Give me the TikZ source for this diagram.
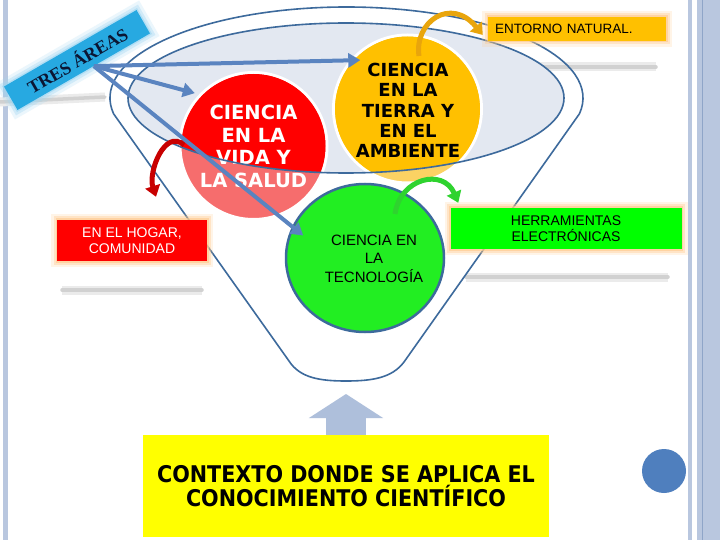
\documentclass[tikz,border=0pt]{standalone}
\usepackage{fontspec}
\setmainfont{Liberation Sans}
\newfontfamily\dvbold{DejaVu Sans}
\newfontfamily\dvcondb{DejaVu Sans Condensed Bold}
\newfontfamily\libserif{Liberation Serif}
\usetikzlibrary{arrows.meta,shapes.geometric,calc}
\definecolor{redc}{HTML}{FF0000}
\definecolor{pinkc}{HTML}{F66D6D}
\definecolor{yelc}{HTML}{FFC000}
\definecolor{lyelc}{HTML}{FBD263}
\definecolor{grnc}{HTML}{00FF00}
\definecolor{tecc}{HTML}{22EE22}
\definecolor{funl}{HTML}{3D6A9C}
\definecolor{ellf}{HTML}{E3E8F1}
\definecolor{arrb}{HTML}{5A84C0}
\definecolor{tresb}{HTML}{27A9E1}
\definecolor{tresglow}{HTML}{9ED6F2}
\definecolor{stripe}{HTML}{B9C7DF}
\definecolor{stripd}{HTML}{8FA5C8}
\definecolor{uparr}{HTML}{AEBFDB}
\definecolor{dotb}{HTML}{4F7FBE}
\definecolor{glowc}{HTML}{FFC98A}
\definecolor{ybox}{HTML}{FFFF00}
\definecolor{navy}{HTML}{0B1633}
\definecolor{orarr}{HTML}{E9A50C}
\definecolor{grarr}{HTML}{2FD32F}
\definecolor{rdarr}{HTML}{C80000}
\tikzset{
  glow/.style={preaction={draw=glowc, line width=12pt, draw opacity=0.2},
               preaction={draw=glowc, line width=7pt, draw opacity=0.35},
               preaction={draw=glowc, line width=3pt, draw opacity=0.6}},
  glowblue/.style={preaction={draw=tresglow, line width=14pt, draw opacity=0.2},
               preaction={draw=tresglow, line width=8pt, draw opacity=0.35},
               preaction={draw=tresglow, line width=3pt, draw opacity=0.6}},
  tagbox/.style={rectangle, inner sep=0pt, glow, font=\fontsize{14}{16.5}\selectfont, align=center},
  bluearrow/.style={draw=arrb, line width=4pt, -{Triangle[width=14pt,length=12pt]}},
  curvearrow/.style={line width=5pt, -{Triangle[width=15pt,length=11pt]}},
  softshadow/.style={line cap=round, preaction={draw=black!8, line width=9pt}, draw=black!18, line width=3.5pt},
  funnel/.style={draw=funl, line width=1.6pt},
}
\begin{document}
\begin{tikzpicture}[x=1pt,y=-1pt]
\useasboundingbox (0,0) rectangle (720,540);
\fill[white] (0,0) rectangle (720,540);
% page stripes
\fill[stripe] (3,0) rectangle (8,540);
\fill[stripe] (688,0) rectangle (692,540);
\fill[stripe] (697,0) rectangle (720,540);
\draw[stripd, line width=1pt] (702.5,0) -- (702.5,540);
% soft shadows
\draw[softshadow] (62,290) -- (202,290);
\draw[softshadow] (466,277) -- (668,277);
\draw[softshadow] (498,67) -- (656,67);
\draw[softshadow] (0,102) -- (105,97);
% funnel opening
\fill[ellf] (346,98) ellipse[x radius=218, y radius=75];
% circles
\node[circle, minimum size=147pt, inner sep=0pt, fill=pinkc, draw=white, line width=3pt] (vida) at (253.5,146) {};
\node[circle, minimum size=148pt, inner sep=0pt, fill=lyelc, draw=white, line width=3pt] (tierra) at (407.5,109) {};
\begin{scope}
  \clip (346,98) ellipse[x radius=218, y radius=75];
  \fill[redc] (vida.center) circle[radius=72];
  \fill[yelc] (tierra.center) circle[radius=72.5];
\end{scope}
\node[ellipse, minimum width=158pt, minimum height=148pt, inner sep=0pt, fill=tecc, draw=funl, line width=2.5pt] (tecno) at (365,258) {};
% circle texts
\node[font=\dvbold\bfseries\fontsize{19.5}{22.7}\selectfont, text=white, align=center] (vidaT) at (253.5,146.5) {CIENCIA\\EN LA\\VIDA Y\\LA SALUD};
\node[font=\dvbold\bfseries\fontsize{18}{20.4}\selectfont, align=center] (tierraT) at (408,110.5) {CIENCIA\\EN LA\\TIERRA Y\\EN EL\\AMBIENTE};
\node[font=\fontsize{15}{18.4}\selectfont, align=center] (tecnoT) at (374,258.5) {CIENCIA EN\\LA\\TECNOLOGÍA};
% funnel outlines
\draw[funnel] (346,98) ellipse[x radius=218, y radius=75];
\draw[funnel] (113.6,113.8) arc[start angle=170, end angle=370, x radius=236.5, y radius=91]
  -- (404,362) .. controls (392,378) and (372,381) .. (346,381)
  .. controls (320,381) and (300,378) .. (289,361) -- cycle;
% label boxes
\node[tagbox, fill=redc, text=white, minimum width=150pt, minimum height=41pt] (hogar) at (132,240.5) {EN EL HOGAR,\\COMUNIDAD};
\node[tagbox, fill=grnc, minimum width=231pt, minimum height=41pt] (herr) at (566,228.5) {HERRAMIENTAS\\ELECTRÓNICAS};
\node[tagbox, fill=yelc, minimum width=178pt, minimum height=24pt, text width=164pt, align=left, font=\fontsize{13.5}{16}\selectfont] (entorno) at (577,29) {ENTORNO NATURAL.};
% curved arrows
\draw[curvearrow, draw=orarr] ([shift={(11.5,-53)}]tierra.center) .. controls +(-5,-34) and +(-32,-39) .. ([shift={(-5,6)}]entorno.west);
\draw[curvearrow, draw=grarr] ([shift={(30,-44)}]tecno.center) .. controls +(5,-36) and +(-15,-35) .. ([shift={(8,-5)}]herr.north west);
\draw[curvearrow, draw=rdarr] ([shift={(-69.5,-1)}]vida.center) .. controls +(-19,-17) and +(-8,-25) .. ([shift={(24,-23)}]hogar.north);
% tres areas
\node[rectangle, rotate=30, minimum width=153pt, minimum height=27pt, inner sep=0pt, fill=tresb, glowblue,
      font=\libserif\bfseries\fontsize{18}{18}\selectfont, text=navy] (tres) at (77,60) {TRES ÁREAS};
\coordinate (src) at ($(tres.south)!0.15!(tres.south east)$);
\draw[bluearrow] (src) -- ($(tierra.center)!0.9!(tierra.134)$);
\draw[bluearrow] (src) -- ($(vida.center)!1.053!(vida.138)$);
\draw[bluearrow] (src) -- ($(tecno.center)!0.826!(tecno.160)$);
% bottom context box
\node[rectangle, fill=ybox, minimum width=406pt, minimum height=102pt, inner sep=0pt,
      font=\dvcondb\fontsize{23}{24}\selectfont, align=center] (contexto) at (346,486) {CONTEXTO DONDE SE APLICA EL\\CONOCIMIENTO CIENTÍFICO};
\coordinate (fb) at (346,394);
\draw[draw=uparr, line width=40pt, -{Triangle[width=73pt,length=24pt]}] (contexto.north) -- (fb);
\node[circle, fill=dotb, minimum size=44pt, inner sep=0pt] (dot) at (664,471) {};
\end{tikzpicture}
\end{document}
